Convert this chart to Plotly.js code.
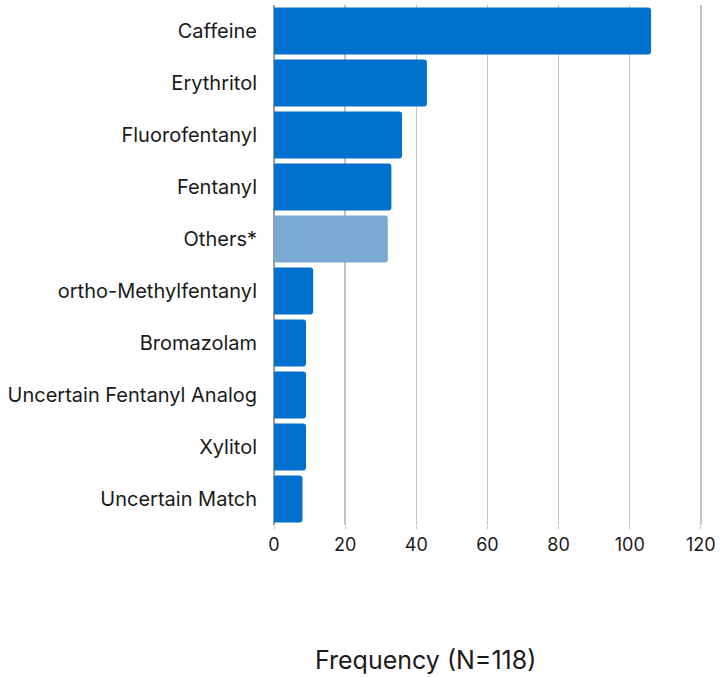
<!DOCTYPE html>
<html>
<head>
<meta charset="utf-8">
<script src="https://cdn.plot.ly/plotly-3.0.1.min.js"></script>
<style>html,body{margin:0;padding:0;background:#fff;}#chart{width:721px;height:677px;}</style>
</head>
<body>
<div id="chart"></div>
<script>
const categories = ["Caffeine","Erythritol","Fluorofentanyl","Fentanyl","Others*","ortho-Methylfentanyl","Bromazolam","Uncertain Fentanyl Analog","Xylitol","Uncertain Match"];
const frequencies = [106, 43, 36, 33, 32, 11, 9, 9, 9, 8];
const xTicks = [0, 20, 40, 60, 80, 100, 120];
const axisTitle = "Frequency (N=118)";

const barColors = categories.map(c => c === "Others*" ? "#7AAAD3" : "#0071CE");

const trace = {
  type: "bar",
  orientation: "h",
  x: frequencies,
  y: categories,
  marker: { color: barColors, cornerradius: 3, line: { width: 0 } },
  hoverinfo: "x+y"
};

const layout = {
  width: 721, height: 677,
  margin: { l: 273.5, r: 18, t: 4.5, b: 152 },
  paper_bgcolor: "#fff", plot_bgcolor: "#fff",
  font: { family: "Inter, 'Open Sans', sans-serif", color: "#1a1a1a", size: 16 },
  bargap: 0.1,
  showlegend: false,
  xaxis: {
    range: [0, 120.6],
    tickvals: xTicks,
    ticktext: xTicks.map(String),
    showgrid: true, gridcolor: "#c4c4c4", gridwidth: 1.5,
    zeroline: true, zerolinecolor: "#9a9a9a", zerolinewidth: 1.5,
    ticks: "outside", ticklen: 3, tickcolor: "#c4c4c4",
    tickfont: { size: 18, color: "#1a1a1a" },
    showline: false,
    automargin: false
  },
  yaxis: {
    autorange: "reversed",
    showgrid: false, zeroline: false, showline: false,
    ticks: "",
    ticklabelstandoff: 16,
    tickfont: { size: 20, color: "#1a1a1a" },
    automargin: false
  },
  annotations: [{
    text: axisTitle,
    xref: "paper", yref: "paper",
    x: (425 - 273.5) / (721 - 273.5 - 18), y: -(660 - 525) / 520.5,
    xanchor: "center", yanchor: "middle",
    showarrow: false,
    font: { size: 25, color: "#1a1a1a" }
  }]
};

Plotly.newPlot("chart", [trace], layout, { displayModeBar: false, staticPlot: true });
</script>
</body>
</html>
